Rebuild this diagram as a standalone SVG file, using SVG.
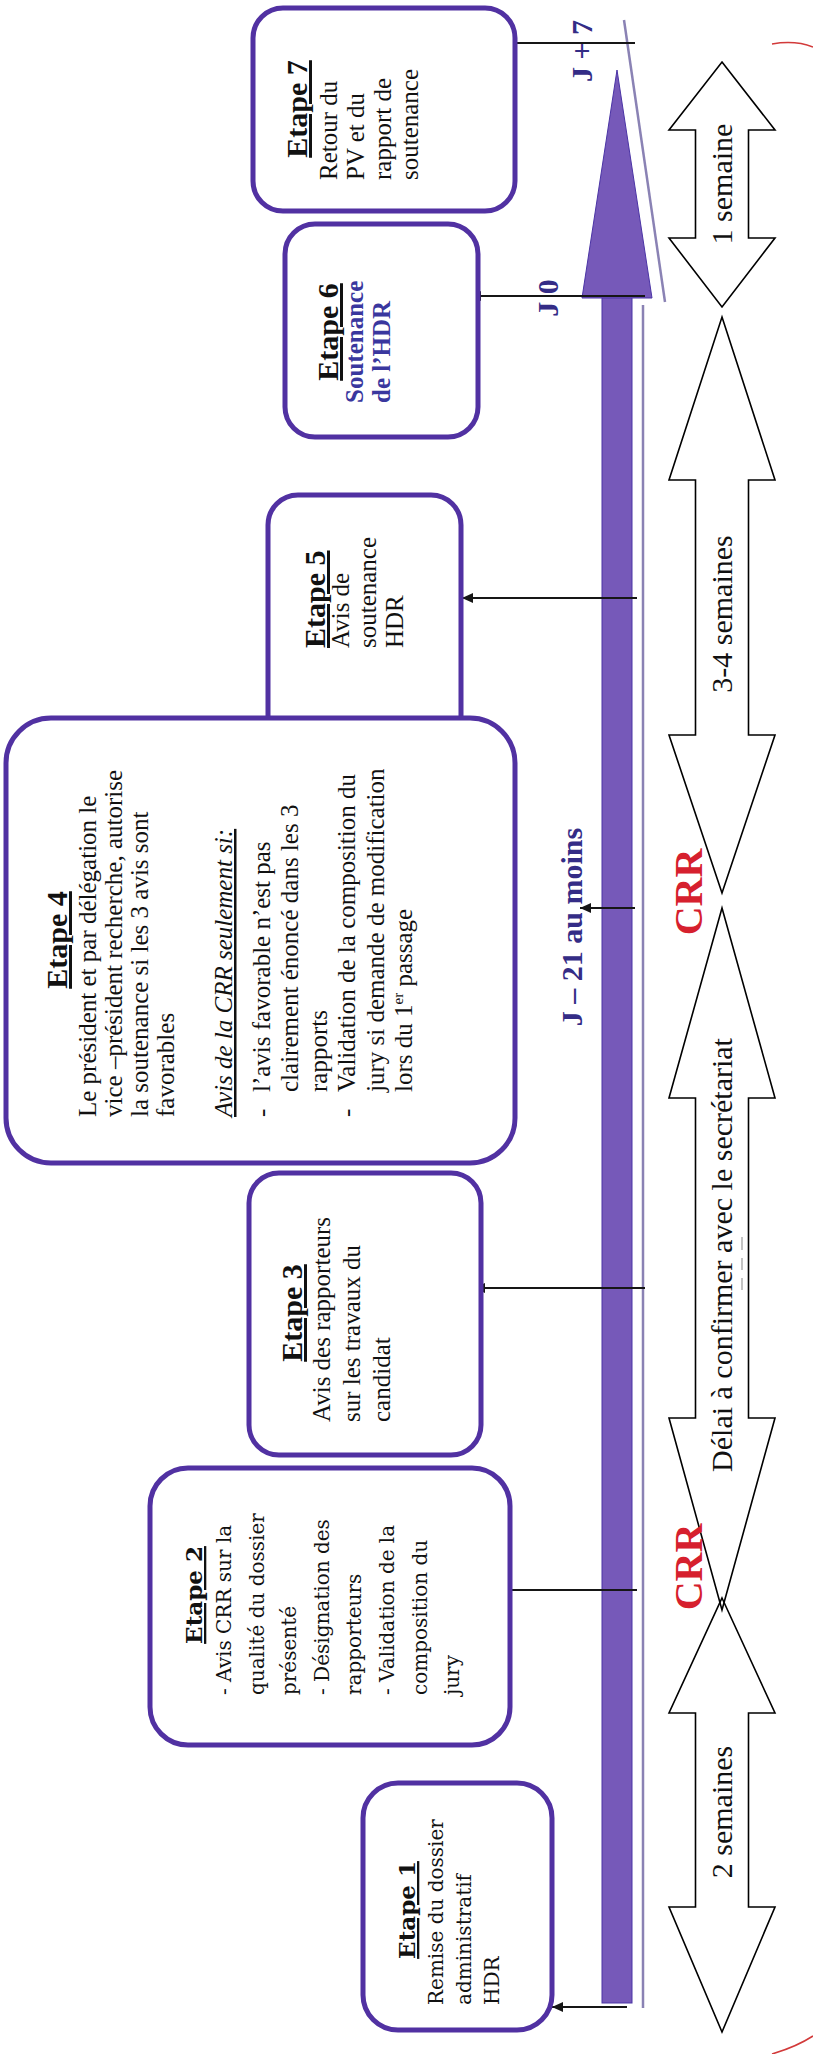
<svg xmlns="http://www.w3.org/2000/svg" width="813" height="2054" viewBox="0 0 813 2054">
<style>
.box{fill:#fff;stroke:#5131a2;stroke-width:5}
.t{font-family:"Liberation Serif","Times New Roman",serif;font-size:25px;fill:#111}
.h{font-family:"Liberation Serif","Times New Roman",serif;font-size:30px;font-weight:bold;text-decoration:underline;text-anchor:middle;fill:#111}
.p{font-family:"DejaVu Serif",serif;font-size:20px;fill:#111}
.ph{font-family:"DejaVu Serif",serif;font-size:23px;font-weight:bold;text-decoration:underline;text-anchor:middle;fill:#111}
.bl{font-weight:bold;fill:#3a379e}
.j{font-family:"Liberation Serif","Times New Roman",serif;font-size:30px;font-weight:bold;fill:#342c86;text-anchor:middle}
.crr{font-family:"Liberation Serif","Times New Roman",serif;font-size:40px;font-weight:bold;fill:#d6202e;text-anchor:middle}
.lbl{font-family:"Liberation Serif","Times New Roman",serif;font-size:30px;text-anchor:middle;fill:#111}
.conn{stroke:#161616;stroke-width:1.8;fill:none}
.blk{fill:none;stroke:#000;stroke-width:1.6;stroke-linejoin:miter}
.thin{stroke:#8a82b4;stroke-width:2.5}
</style>
<defs>
<marker id="ah" markerUnits="userSpaceOnUse" markerWidth="12" markerHeight="10" refX="11" refY="5" orient="auto">
<path d="M0,0 L11,5 L0,10 z" fill="#161616"/>
</marker>
</defs>
<rect width="813" height="2054" fill="#fff"/>

<!-- timeline bar -->
<g id="timeline">
<rect x="602" y="294" width="30" height="1709" fill="#7659b9" stroke="#4b34a5" stroke-width="1"/>
<polygon points="582,298 652,298 617,70" fill="#7659b9" stroke="#4b34a5" stroke-width="1"/>
<line class="thin" x1="624" y1="20" x2="665" y2="302"/>
<line class="thin" x1="643" y1="305" x2="643" y2="2008"/>
</g>

<!-- duration block arrows -->
<g id="durations">
<polygon class="blk" points="722,62 775,130 748.5,130 748.5,238 775,238 722,307 669,238 695.5,238 695.5,130 669,130"/>
<polygon class="blk" points="722,317 775,480 748.5,480 748.5,735 775,735 722,893 669,735 695.5,735 695.5,480 669,480"/>
<polygon class="blk" points="722,908 775,1098 748.5,1098 748.5,1418 775,1418 722,1610 669,1418 695.5,1418 695.5,1098 669,1098"/>
<polygon class="blk" points="722,1598 775,1713 748.5,1713 748.5,1907 775,1907 722,2032 669,1907 695.5,1907 695.5,1713 669,1713"/>
<g transform="rotate(-90)">
<text class="lbl" x="-184" y="732">1 semaine</text>
<text class="lbl" x="-614" y="732">3-4 semaines</text>
<text class="lbl" x="-1255" y="732">Délai à confirmer avec le secrétariat</text>
<text class="lbl" x="-1812" y="732">2 semaines</text>
<text class="crr" x="-892" y="702">CRR</text>
<text class="crr" x="-1567" y="702">CRR</text>
</g>
<g stroke="#9a9a9a" stroke-width="1.2">
<line x1="742" y1="1237" x2="742" y2="1250"/>
<line x1="742" y1="1258" x2="742" y2="1270"/>
<line x1="742" y1="1278" x2="742" y2="1290"/>
</g>
</g>

<!-- connectors -->
<g id="connectors">
<line class="conn" x1="515" y1="43" x2="635" y2="43"/>
<line class="conn" x1="645" y1="296" x2="470" y2="296" marker-end="url(#ah)"/>
<line class="conn" x1="637" y1="598" x2="462" y2="598" marker-end="url(#ah)"/>
<line class="conn" x1="635" y1="908" x2="580" y2="908" marker-end="url(#ah)"/>
<line class="conn" x1="645" y1="1288" x2="474" y2="1288" marker-end="url(#ah)"/>
<line class="conn" x1="637" y1="1590" x2="459" y2="1590" marker-end="url(#ah)"/>
<line class="conn" x1="627" y1="2007" x2="552" y2="2007" marker-end="url(#ah)"/>
</g>

<!-- date labels -->
<g id="dates" transform="rotate(-90)">
<text class="j" x="-51" y="592">J + 7</text>
<text class="j" x="-298" y="558">J 0</text>
<text class="j" x="-927" y="582">J – 21 au moins</text>
</g>

<g id="etape7">
<rect class="box" x="253" y="8" width="262" height="203" rx="30"/>
<g transform="rotate(-90)">
<text class="h" x="-109" y="307">Etape 7</text>
<text class="t" x="-180" y="337">Retour du</text>
<text class="t" x="-180" y="364">PV et du</text>
<text class="t" x="-180" y="391">rapport de</text>
<text class="t" x="-180" y="418">soutenance</text>
</g>
</g>

<g id="etape6">
<rect class="box" x="285" y="224" width="193" height="213" rx="30"/>
<g transform="rotate(-90)">
<text class="h" x="-332" y="338">Etape 6</text>
<text class="t bl" x="-403" y="363">Soutenance</text>
<text class="t bl" x="-403" y="390">de l’HDR</text>
</g>
</g>

<g id="etape5">
<rect class="box" x="268" y="495" width="193" height="273" rx="30"/>
<g transform="rotate(-90)">
<text class="h" x="-648" y="325" style="text-anchor:start">Etape 5</text>
<text class="t" x="-648" y="349">Avis de</text>
<text class="t" x="-648" y="376">soutenance</text>
<text class="t" x="-648" y="403">HDR</text>
</g>
</g>

<g id="etape4">
<rect class="box" x="6" y="718" width="509" height="445" rx="45"/>
<g transform="rotate(-90)">
<text class="h" x="-940" y="67">Etape 4</text>
<text class="t" x="-1117" y="96">Le président et par délégation le</text>
<text class="t" x="-1117" y="122">vice –président recherche, autorise</text>
<text class="t" x="-1117" y="148">la soutenance si les 3 avis sont</text>
<text class="t" x="-1117" y="174">favorables</text>
<text class="t" x="-1117" y="232" font-style="italic" text-decoration="underline">Avis de la CRR seulement si:</text>
<text class="t" x="-1117" y="270">-</text>
<text class="t" x="-1092" y="270">l’avis favorable n’est pas</text>
<text class="t" x="-1092" y="298">clairement énoncé dans les 3</text>
<text class="t" x="-1092" y="327">rapports</text>
<text class="t" x="-1117" y="355">-</text>
<text class="t" x="-1092" y="355">Validation de la composition du</text>
<text class="t" x="-1092" y="384">jury si demande de modification</text>
<text class="t" x="-1092" y="412">lors du 1<tspan dy="-9" font-size="15">er</tspan><tspan dy="9"> passage</tspan></text>
</g>
</g>

<g id="etape3">
<rect class="box" x="249" y="1173" width="232" height="282" rx="30"/>
<g transform="rotate(-90)">
<text class="h" x="-1313" y="302">Etape 3</text>
<text class="t" x="-1422" y="330">Avis des rapporteurs</text>
<text class="t" x="-1422" y="360">sur les travaux du</text>
<text class="t" x="-1422" y="390">candidat</text>
</g>
</g>

<g id="etape2">
<rect class="box" x="150" y="1468" width="360" height="277" rx="38"/>
<g transform="rotate(-90)">
<text class="ph" x="-1595" y="202">Etape 2</text>
<text class="p" x="-1695" y="231">- Avis CRR sur la</text>
<text class="p" x="-1695" y="264">qualité du dossier</text>
<text class="p" x="-1695" y="296">présenté</text>
<text class="p" x="-1695" y="329">- Désignation des</text>
<text class="p" x="-1695" y="361">rapporteurs</text>
<text class="p" x="-1695" y="394">- Validation de la</text>
<text class="p" x="-1695" y="427">composition du</text>
<text class="p" x="-1695" y="459">jury</text>
</g>
</g>

<g id="etape1">
<rect class="box" x="363" y="1783" width="189" height="247" rx="35"/>
<g transform="rotate(-90)">
<text class="ph" x="-1910" y="415">Etape 1</text>
<text class="p" x="-2005" y="443">Remise du dossier</text>
<text class="p" x="-2005" y="471">administratif</text>
<text class="p" x="-2005" y="499">HDR</text>
</g>
</g>

<g id="marks" fill="none" stroke="#d23a3a" stroke-width="1.5">
<path d="M772,44 Q795,40 813,47"/>
<path d="M772,2054 Q796,2047 813,2036"/>
</g>
</svg>
